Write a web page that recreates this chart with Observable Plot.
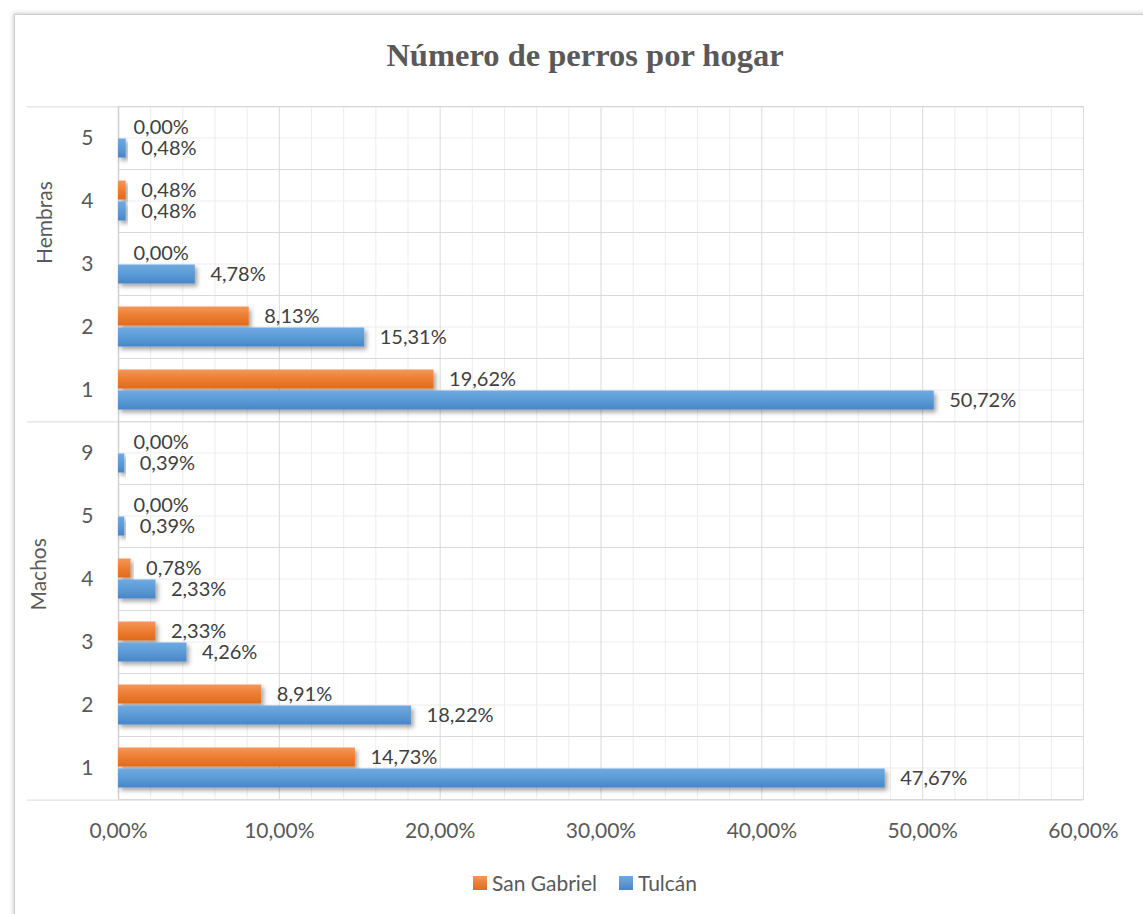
<!DOCTYPE html>
<html>
<head>
<meta charset="utf-8">
<script src="https://cdn.jsdelivr.net/npm/d3@7"></script>
<script src="https://cdn.jsdelivr.net/npm/@observablehq/plot@0.6"></script>
<style>
  body { margin: 0; background: #fff; }
  #wrap { position: relative; width: 1143px; height: 914px; overflow: hidden; font-family: Lato, sans-serif; }
  #frame { position: absolute; left: 14px; top: 14px; width: 1140px; height: 910px; border: 1px solid #cfcfcf; box-shadow: 0 0 4px 1px rgba(0,0,0,0.18); }
  #title { position: absolute; top: 37px; left: 0; width: 1170px; text-align: center; font: bold 32.5px "Liberation Serif", "Times New Roman", serif; color: #595959; }
  #chart { position: absolute; left: 0; top: 90px; }
  #legend { position: absolute; top: 870px; left: 0; width: 1170px; display: flex; justify-content: center; gap: 22px; font-size: 21px; color: #595959; }
  #legend .item { display: flex; align-items: center; gap: 5px; }
  #legend .sw { display: inline-block; width: 14px; height: 14px; }
</style>
</head>
<body>
<div id="wrap">
  <div id="frame"></div>
  <div id="title">Número de perros por hogar</div>
  <div id="chart"></div>
  <div id="legend"></div>
</div>
<script>
// ---- data ----
const groups = ["Hembras", "Machos"];
const hembrasRows = ["5", "4", "3", "2", "1"];
const machosRows = ["9", "5", "4", "3", "2", "1"];
const series = ["San Gabriel", "Tulcán"];
const hembrasSanGabriel = [0.00, 0.48, 0.00, 8.13, 19.62];
const hembrasTulcan = [0.48, 0.48, 4.78, 15.31, 50.72];
const machosSanGabriel = [0.00, 0.00, 0.78, 2.33, 8.91, 14.73];
const machosTulcan = [0.39, 0.39, 2.33, 4.26, 18.22, 47.67];
const xTicks = [0, 10, 20, 30, 40, 50, 60];

// ---- derived tables ----
const rowsByGroup = {Hembras: hembrasRows, Machos: machosRows};
const valuesByGroup = {Hembras: [hembrasSanGabriel, hembrasTulcan], Machos: [machosSanGabriel, machosTulcan]};
const keyOf = (g, r) => `${g}|${r}`;
const keys = groups.flatMap(g => rowsByGroup[g].map(r => keyOf(g, r)));
const table = groups.flatMap(g => rowsByGroup[g].flatMap((r, i) =>
  series.map((s, j) => ({key: keyOf(g, r), group: g, row: r, series: s, value: valuesByGroup[g][j][i]}))));
const fmt = v => v.toFixed(2).replace(".", ",") + "%";

// ---- layout ----
const W = 1143, H = 770, mt = 15, mb = 60, ml = 118, mr = 60;
const rowH = (H - mt - mb) / keys.length;
const pIn = 0.045, pOut = 0.458;
const step = rowH / (series.length - pIn + 2 * pOut);
const bw = step * (1 - pIn);
const firstCenter = pOut * step + bw / 2; // first band center from facet top

const groupTops = groups.map(g => keyOf(g, rowsByGroup[g][0]));
const lastKey = keys[keys.length - 1];
const labelHembras = keyOf("Hembras", hembrasRows[Math.floor(hembrasRows.length / 2)]);
const labelMachos = keyOf("Machos", machosRows[machosRows.length / 2 - 1]);

const minor = d3.range(0, 61, 2).filter(v => v % 10 !== 0);

const chart = Plot.plot({
  width: W, height: H,
  marginTop: mt, marginBottom: mb, marginLeft: ml, marginRight: mr,
  style: {fontFamily: "Lato, sans-serif", fontSize: "21px", color: "#595959", background: "transparent", overflow: "visible"},
  fy: {domain: keys, padding: 0, axis: "left", tickSize: 0, tickPadding: 25, tickFormat: k => k.split("|")[1], label: null},
  y: {domain: series, paddingInner: pIn, paddingOuter: pOut, axis: null},
  x: {domain: [0, 60], ticks: xTicks, tickFormat: fmt, tickSize: 0, tickPadding: 24, label: null},
  color: {domain: series, range: ["url(#gradSG)", "url(#gradT)"]},
  marks: [
    Plot.ruleX(minor, {stroke: "#ededed"}),
    Plot.gridFy({stroke: "#ededed", strokeOpacity: 1}),
    Plot.ruleX(xTicks, {stroke: "#d9d9d9"}),
    Plot.frame({stroke: "#d9d9d9"}),
    Plot.ruleY(groupTops, {fy: d => d, y: () => series[0], dy: -firstCenter, insetLeft: -91, stroke: "#d9d9d9"}),
    Plot.ruleY([lastKey], {fy: d => d, y: () => series[0], dy: rowH - firstCenter, insetLeft: -91, stroke: "#d9d9d9"}),
    Plot.ruleX([0], {stroke: "#d0d0d0", strokeWidth: 1.5}),
    Plot.barX(table, {x: "value", y: "series", fy: "key", fill: "series", insetTop: 0.5, insetBottom: 0.5}),
    Plot.text(table, {x: "value", y: "series", fy: "key", text: d => fmt(d.value), textAnchor: "start", dx: 15, fill: "#404040", fontSize: 20}),
    Plot.text([groups[0]], {fy: () => labelHembras, text: d => d, frameAnchor: "left", dx: -73, rotate: -90, fill: "#595959"}),
    Plot.text([groups[1]], {fy: () => labelMachos, text: d => d, frameAnchor: "bottom-left", dx: -73, rotate: -90, fill: "#595959"})
  ]
});

// gradients + shadow definitions
const svg = d3.select(chart.tagName.toLowerCase() === "svg" ? chart : chart.querySelector("svg"));
const defs = svg.insert("defs", ":first-child");
const grads = [
  {id: "gradSG", stops: ["#F3975B", "#ED7D31", "#E06A1C"]},
  {id: "gradT", stops: ["#6FAAE1", "#5B9BD5", "#4886C9"]}
];
for (const g of grads) {
  const lg = defs.append("linearGradient").attr("id", g.id).attr("x1", 0).attr("y1", 0).attr("x2", 0).attr("y2", 1);
  g.stops.forEach((c, i) => lg.append("stop").attr("offset", i / (g.stops.length - 1)).attr("stop-color", c));
}
const f = defs.append("filter").attr("id", "shadow").attr("x", "-10%").attr("y", "-30%").attr("width", "130%").attr("height", "180%");
f.append("feDropShadow").attr("dx", 2.5).attr("dy", 3).attr("stdDeviation", 2).attr("flood-color", "#000").attr("flood-opacity", 0.35);
svg.selectAll("g[aria-label='bar'] rect").attr("filter", "url(#shadow)");

document.getElementById("chart").append(chart);

// legend
const legend = d3.select("#legend");
series.forEach((s, i) => {
  const it = legend.append("span").attr("class", "item");
  it.append("span").attr("class", "sw").style("background", `linear-gradient(${grads[i].stops[0]}, ${grads[i].stops[2]})`);
  it.append("span").text(s);
});
</script>
</body>
</html>
